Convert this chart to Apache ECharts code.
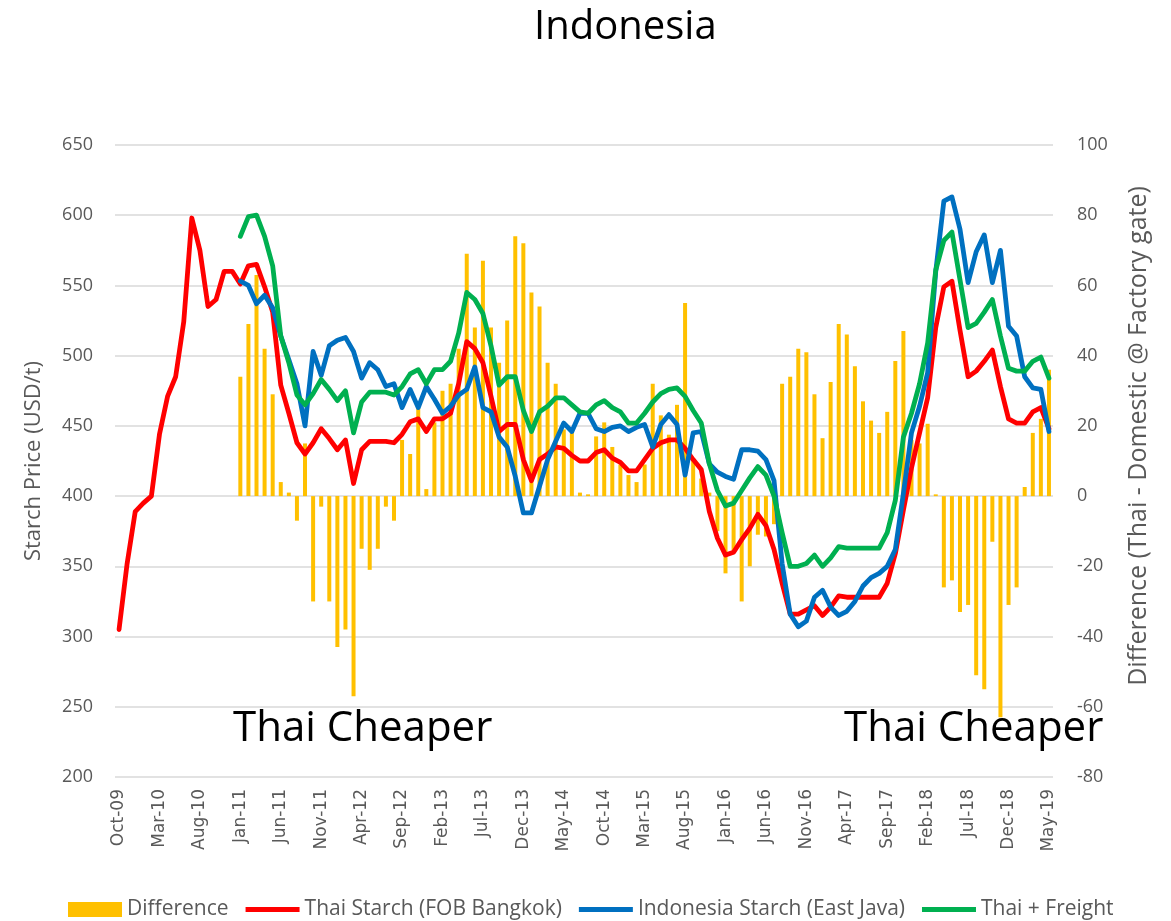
<!DOCTYPE html>
<html>
<head>
<meta charset="utf-8">
<script src="https://cdn.jsdelivr.net/npm/echarts@6/dist/echarts.min.js"></script>
<style>
  html, body { margin: 0; padding: 0; background: #fff; }
  #main { width: 1171px; height: 921px; }
</style>
</head>
<body>
<div id="main"></div>
<script>
// monthly categories, Oct-09 .. May-19
var months = [
  'Oct-09','Nov-09','Dec-09',
  'Jan-10','Feb-10','Mar-10','Apr-10','May-10','Jun-10','Jul-10','Aug-10','Sep-10','Oct-10','Nov-10','Dec-10',
  'Jan-11','Feb-11','Mar-11','Apr-11','May-11','Jun-11','Jul-11','Aug-11','Sep-11','Oct-11','Nov-11','Dec-11',
  'Jan-12','Feb-12','Mar-12','Apr-12','May-12','Jun-12','Jul-12','Aug-12','Sep-12','Oct-12','Nov-12','Dec-12',
  'Jan-13','Feb-13','Mar-13','Apr-13','May-13','Jun-13','Jul-13','Aug-13','Sep-13','Oct-13','Nov-13','Dec-13',
  'Jan-14','Feb-14','Mar-14','Apr-14','May-14','Jun-14','Jul-14','Aug-14','Sep-14','Oct-14','Nov-14','Dec-14',
  'Jan-15','Feb-15','Mar-15','Apr-15','May-15','Jun-15','Jul-15','Aug-15','Sep-15','Oct-15','Nov-15','Dec-15',
  'Jan-16','Feb-16','Mar-16','Apr-16','May-16','Jun-16','Jul-16','Aug-16','Sep-16','Oct-16','Nov-16','Dec-16',
  'Jan-17','Feb-17','Mar-17','Apr-17','May-17','Jun-17','Jul-17','Aug-17','Sep-17','Oct-17','Nov-17','Dec-17',
  'Jan-18','Feb-18','Mar-18','Apr-18','May-18','Jun-18','Jul-18','Aug-18','Sep-18','Oct-18','Nov-18','Dec-18',
  'Jan-19','Feb-19','Mar-19','Apr-19','May-19'
];

// Thai Starch (FOB Bangkok), USD/t
var thaiStarch = [
  305, 352, 389, 395, 400, 444, 471, 485, 524, 598, 575, 535, 540, 560, 560,
  551, 564, 565, 549, 531, 479, 459, 438, 430, 438, 448, 441, 433, 440, 409,
  433, 439, 439, 439, 438, 444, 453, 455, 446, 455, 455, 459, 480, 510, 505,
  495, 471, 446, 451, 451, 426, 411, 426, 430, 435, 434, 429, 425, 425, 431,
  433, 427, 424, 418, 418, 426, 434, 438, 440, 440, 434, 426, 419, 389, 370,
  358, 360, 369, 377, 387, 379, 362, 338, 316, 316, 319, 322, 315, 321, 329,
  328, 328, 328, 328, 328, 338, 359, 390, 420, 445, 470, 520, 549, 553, 518,
  485, 489, 496, 504, 478, 455, 452, 452, 460, 463, 448
];

// Indonesia Starch (East Java), from Jan-11
var indoStarch = [
  null, null, null, null, null, null, null, null, null, null, null, null, null, null, null,
  553, 550, 537, 543, 534, 514, 497, 480, 450, 503, 486, 507, 511, 513, 503,
  484, 495, 490, 478, 480, 463, 476, 463, 478, 469, 459, 464, 472, 476, 492,
  463, 460, 442, 435, 414, 388, 388, 407, 426, 439, 452, 446, 459, 459, 448,
  446, 449, 450, 446, 449, 451, 435, 451, 458, 451, 415, 445, 446, 423, 417,
  414, 412, 433, 433, 432, 426, 411, 352, 316, 307, 311, 328, 333, 321, 315,
  318, 325, 336, 342, 345, 350, 362, 402, 445, 464, 488, 560, 610, 613, 590,
  552, 574, 586, 552, 575, 521, 514, 485, 477, 476, 446
];

// Thai + Freight, from Jan-11
var thaiFreight = [
  null, null, null, null, null, null, null, null, null, null, null, null, null, null, null,
  585, 599, 600, 585, 564, 514, 495, 472, 465, 473, 483, 476, 468, 475, 445,
  467, 474, 474, 474, 472, 478, 487, 490, 480, 490, 490, 496, 516, 545, 540,
  530, 507, 479, 485, 485, 461, 446, 460, 464, 470, 470, 465, 460, 459, 465,
  468, 463, 460, 452, 452, 459, 467, 473, 476, 477, 471, 461, 452, 423, 404,
  393, 395, 404, 413, 421, 415, 400, 374, 350, 350, 352, 358, 350, 356, 364,
  363, 363, 363, 363, 363, 374, 397, 442, 459, 480, 509, 561, 582, 588, 554,
  520, 523, 531, 540, 514, 491, 489, 489, 496, 499, 484
];

// Difference (Thai - Domestic @ Factory gate), right axis
var difference = [
  null, null, null, null, null, null, null, null, null, null, null, null, null, null, null,
  34, 49, 63, 42, 29, 4, 1, -7, 15, -30, -3, -30, -43, -38, -57,
  -15, -21, -15, -3, -7, 16, 12, 25, 2, 21, 30, 32, 42, 69, 48,
  67, 48, 38, 50, 74, 72, 58, 54, 38, 32, 19, 18, 1, 0.5, 17,
  21, 14, 9, 6, 4, 9, 32, 23, 17.5, 26, 55, 10, 5, 1, -10,
  -22, -16, -30, -20, -11, -11.5, -8, 32, 34, 42, 41, 29, 16.5, 32.5, 49,
  46, 37, 27, 21.5, 18, 24, 38.5, 47, 16, 15, 20.6, 0.5, -26, -24, -33,
  -31, -51, -55, -13, -63, -31, -26, 2.6, 18, 22, 36
];

var leftTicks = { min: 200, max: 650, step: 50 };
var rightTicks = { min: -80, max: 100, step: 20 };

var grey = '#595959';
var font = '"Open Sans", "Noto Sans", sans-serif';
// flat bar used as legend key for the lines (keeps aspect inside itemWidth x itemHeight)
var lineKey = 'path://M0,0h60v5.5h-60z';

var myChart = echarts.init(document.getElementById('main'));

var option = {
  backgroundColor: '#fff',
  animation: false,
  title: {
    text: 'Indonesia',
    left: 529,
    top: 3,
    textStyle: { fontFamily: font, fontSize: 40, fontWeight: 'normal', color: '#000' }
  },
  legend: {
    left: 63,
    top: 894,
    itemWidth: 54,
    itemHeight: 15,
    itemGap: 17,
    textStyle: { fontFamily: font, fontSize: 21, color: grey },
    data: [
      { name: 'Difference', icon: 'rect' },
      { name: 'Thai Starch (FOB Bangkok)', icon: lineKey },
      { name: 'Indonesia Starch (East Java)', icon: lineKey },
      { name: 'Thai + Freight', icon: lineKey }
    ]
  },
  grid: { left: 115, right: 118, top: 145, bottom: 144 },
  xAxis: {
    type: 'category',
    data: months,
    boundaryGap: true,
    axisLine: { show: false },
    axisTick: { show: false },
    axisLabel: {
      interval: 4,
      rotate: 90,
      margin: 12,
      fontFamily: '"DejaVu Sans", sans-serif',
      fontSize: 17,
      color: grey
    }
  },
  yAxis: [{
    type: 'value',
    min: leftTicks.min,
    max: leftTicks.max,
    interval: leftTicks.step,
    name: 'Starch Price (USD/t)',
    nameLocation: 'middle',
    nameRotate: 90,
    nameGap: 70,
    nameTextStyle: { fontFamily: font, fontSize: 22, color: grey },
    axisLine: { show: false },
    axisTick: { show: false },
    axisLabel: { margin: 22, fontFamily: font, fontSize: 18, color: grey },
    splitLine: { lineStyle: { color: '#D9D9D9', width: 1.5 } }
  }, {
    type: 'value',
    min: rightTicks.min,
    max: rightTicks.max,
    interval: rightTicks.step,
    name: 'Difference (Thai - Domestic @ Factory gate)',
    nameLocation: 'middle',
    nameRotate: 90,
    nameGap: 73,
    nameTextStyle: { fontFamily: font, fontSize: 25, color: grey, padding: [0, 0, 0, 50] },
    axisLine: { show: false },
    axisTick: { show: false },
    axisLabel: { margin: 24, fontFamily: font, fontSize: 18, color: grey },
    splitLine: { show: false }
  }],
  graphic: [{
    type: 'text',
    left: 233,
    top: 708,
    style: { text: 'Thai Cheaper', font: '42px "Open Sans"', fill: '#000' }
  }, {
    type: 'text',
    left: 844,
    top: 708,
    style: { text: 'Thai Cheaper', font: '42px "Open Sans"', fill: '#000' }
  }],
  series: [{
    name: 'Difference',
    type: 'bar',
    yAxisIndex: 1,
    barWidth: 4,
    itemStyle: { color: '#FFC000' },
    data: difference
  }, {
    name: 'Thai Starch (FOB Bangkok)',
    type: 'line',
    symbol: 'none',
    lineStyle: { color: '#FF0000', width: 4.8, cap: 'round', join: 'round' },
    itemStyle: { color: '#FF0000' },
    data: thaiStarch
  }, {
    name: 'Indonesia Starch (East Java)',
    type: 'line',
    symbol: 'none',
    lineStyle: { color: '#0070C0', width: 4.8, cap: 'round', join: 'round' },
    itemStyle: { color: '#0070C0' },
    data: indoStarch
  }, {
    name: 'Thai + Freight',
    type: 'line',
    symbol: 'none',
    lineStyle: { color: '#00B050', width: 4.8, cap: 'round', join: 'round' },
    itemStyle: { color: '#00B050' },
    data: thaiFreight
  }]
};

myChart.setOption(option);
</script>
</body>
</html>
